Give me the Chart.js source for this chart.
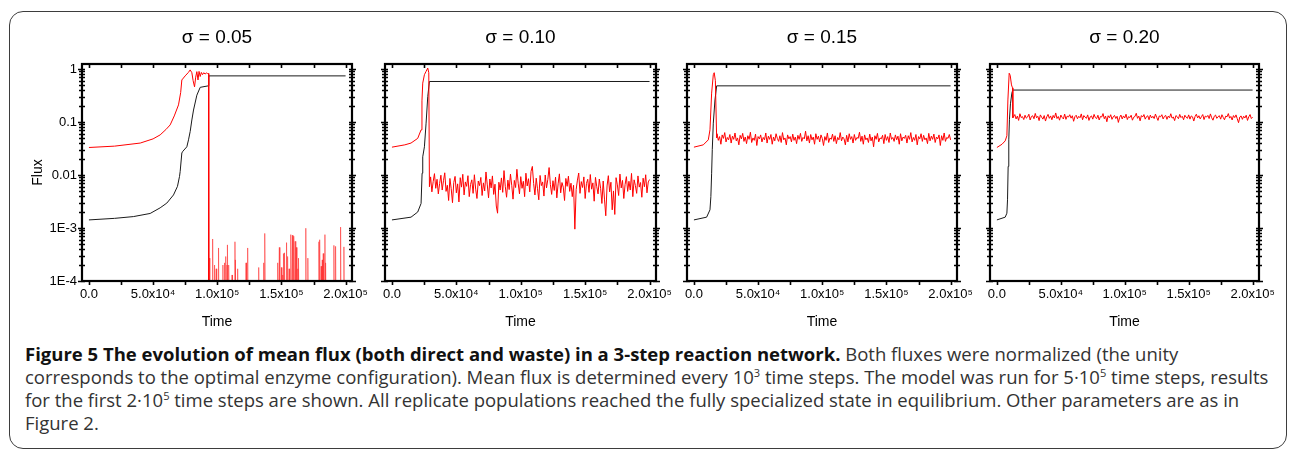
<!DOCTYPE html>
<html>
<head>
<meta charset="utf-8">
<script src="https://cdn.jsdelivr.net/npm/chart.js@4.4.1/dist/chart.umd.min.js"></script>
<style>
  html, body { margin: 0; padding: 0; background: #fff; }
  body { width: 1290px; height: 451px; position: relative; overflow: hidden; }
  .frame { position: absolute; left: 9px; top: 11px; width: 1276px; height: 436px;
           border: 1.5px solid #3d3d3d; border-radius: 14px; }
  .panel { position: absolute; top: 10px; height: 330px; }
  .caption { position: absolute; left: 25px; top: 342px; font-family: 'Open Sans', sans-serif;
             font-size: 18.5px; line-height: 23px; color: #333; white-space: nowrap; }
  .caption b { color: #111; }
  .caption sup { font-size: 60%; line-height: 0; vertical-align: 0.6em; }
</style>
</head>
<body>
<div class="frame"></div>
<div class="panel" style="left:20px;width:348px"><canvas id="p1"></canvas></div>
<div class="panel" style="left:370px;width:302px"><canvas id="p2"></canvas></div>
<div class="panel" style="left:674px;width:299px"><canvas id="p3"></canvas></div>
<div class="panel" style="left:976px;width:299px"><canvas id="p4"></canvas></div>
<div class="caption">
<b>Figure 5 The evolution of mean flux (both direct and waste) in a 3-step reaction network.</b> Both fluxes were normalized (the unity<br>
corresponds to the optimal enzyme configuration). Mean flux is determined every 10<sup>3</sup> time steps. The model was run for 5·10<sup>5</sup> time steps, results<br>
for the first 2·10<sup>5</sup> time steps are shown. All replicate populations reached the fully specialized state in equilibrium. Other parameters are as in<br>
Figure 2.
</div>
<script>
Chart.defaults.font.family = "'Liberation Sans', Arial, sans-serif";
Chart.defaults.color = '#000';

// axis ticks
const xTickValues = [0, 50000, 100000, 150000, 200000];
const xTickLabels = ['0.0', '5.0x10⁴', '1.0x10⁵', '1.5x10⁵', '2.0x10⁵'];
const xMinorTicks = [25000, 75000, 125000, 175000];
const yTickValues = [1, 0.1, 0.01, 0.001, 0.0001];
const yTickLabels = ['1', '0.1', '0.01', '1E-3', '1E-4'];
const sigmaTitles = ['σ = 0.05', 'σ = 0.10', 'σ = 0.15', 'σ = 0.20'];

// flux below the plotted range (drawn off the bottom of the axis)
const belowAxis = 1e-5;
// plateau samples are every 1000 time steps
const noiseStep = 1000;

// --- sigma = 0.05 ---
const black1T = [0, 20000, 34600, 47700, 55500, 60700, 65900, 69000, 70600, 71100, 72400, 73200, 76300, 77600, 78900, 80200, 81500, 84100, 86700, 93000, 93400, 200000];
const black1Y = [0.00142, 0.00152, 0.00164, 0.00188, 0.0024, 0.00295, 0.0042, 0.0061, 0.0094, 0.0116, 0.026, 0.028, 0.034, 0.046, 0.066, 0.109, 0.168, 0.32, 0.45, 0.48, 0.74, 0.74];
const red1T = [0, 20000, 40000, 50000, 55500, 60000, 63300, 66500, 69800, 71500, 72400, 75000, 77500, 78900, 80200, 81200, 82300, 83200, 84100, 85000, 85800, 86700, 87600, 88500, 89500, 90500, 91500, 92500, 93200, 93400];
const red1Y = [0.033, 0.035, 0.040, 0.048, 0.057, 0.072, 0.088, 0.13, 0.21, 0.36, 0.62, 0.74, 0.86, 0.96, 0.85, 0.6, 0.46, 0.7, 0.89, 0.62, 0.9, 0.72, 0.86, 0.78, 0.85, 0.8, 0.84, 0.82, 0.82, belowAxis];
// isolated waste-flux spikes after the collapse
const spike1T = [93800, 96400, 97900, 99200, 101000, 104400, 105700, 106800, 107600, 108100, 109100, 111500, 113800, 114300, 115900, 122400, 123700, 132300, 136200, 137200, 147100, 148400, 150000, 151000, 151800, 152600, 154000, 155000, 156000, 157300, 158600, 159600, 160700, 161700, 162800, 163500, 169000, 170600, 179200, 180000, 181000, 181800, 182600, 183900, 184600, 190900, 192200, 196100, 198700];
const spike1Y = [0.00027, 0.00062, 0.0002, 0.00017, 0.00042, 0.0002, 0.00022, 0.00029, 0.0002, 0.00048, 0.0002, 0.00013, 0.00055, 0.00025, 0.00017, 0.00022, 0.00042, 0.00018, 0.00022, 0.00079, 0.00022, 0.00043, 0.00018, 0.00013, 0.00033, 0.00034, 0.00053, 0.00029, 0.00017, 0.00075, 0.00073, 0.0007, 0.00056, 0.00043, 0.00017, 0.00027, 0.00099, 0.00027, 0.00055, 0.0006, 0.00019, 0.00025, 0.00033, 0.00075, 0.00022, 0.00047, 0.00045, 0.00104, 0.00044];

// --- sigma = 0.10 ---
const black2T = [0, 14800, 20000, 22600, 23400, 23900, 25200, 26500, 27800, 29100, 200000];
const black2Y = [0.00142, 0.0016, 0.002, 0.0029, 0.0108, 0.022, 0.034, 0.095, 0.30, 0.58, 0.58];
const red2T = [0, 10000, 14800, 20000, 22600, 23300, 23900, 25200, 26500, 27800, 28600, 29100];
const red2Y = [0.0335, 0.037, 0.040, 0.049, 0.071, 0.25, 0.54, 0.78, 0.9, 1.04, 0.85, 0.006];
// plateau from t = 30000, in units of 1e-3
const red2Start = 30000;
const red2Milli = [
  9.2, 4.8, 7.5, 10.6, 5.6, 8.3, 4.4, 6.9, 9.9, 5.2,
  7.8, 11.0, 4.9, 6.4, 3.3, 8.6, 5.5, 3.0, 7.2, 9.4,
  4.6, 6.8, 3.1, 8.9, 5.9, 10.3, 4.2, 7.4, 6.1, 9.7,
  3.9, 6.6, 8.1, 4.5, 10.1, 5.4, 3.6, 7.7, 6.3, 9.0,
  4.1, 7.1, 5.0, 11.4, 6.5, 3.7, 8.4, 5.7, 9.6, 4.3,
  6.7, 2.6, 1.9, 7.3, 5.2, 8.8, 4.7, 12.1, 6.0, 3.8,
  8.0, 5.3, 10.4, 6.4, 3.5, 7.9, 5.8, 12.8, 7.0, 4.4,
  9.3, 5.6, 7.6, 3.9, 10.8, 6.2, 8.5, 4.8, 11.7, 14.5,
  6.9, 4.2, 8.7, 5.5, 3.4, 9.8, 6.3, 7.4, 4.0, 10.0,
  5.7, 8.2, 13.8, 6.6, 4.3, 7.8, 5.1, 9.1, 3.7, 6.8,
  10.5, 4.6, 7.2, 5.9, 3.3, 8.6, 6.1, 9.5, 4.9, 7.0,
  3.9, 6.4, 0.95, 5.3, 8.0, 10.9, 4.5, 7.5, 5.8, 9.2,
  3.6, 6.9, 8.3, 4.7, 10.2, 5.4, 7.1, 3.2, 9.0, 6.0,
  4.4, 8.4, 5.6, 2.9, 7.7, 3.5, 1.7, 6.2, 9.7, 4.8,
  7.3, 2.2, 5.0, 1.8, 8.9, 6.5, 4.1, 10.4, 5.7, 7.9,
  3.6, 6.6, 9.3, 4.9, 7.6, 5.2, 10.7, 3.9, 8.1, 6.3,
  4.5, 9.6, 5.9, 7.2, 3.8, 8.7, 6.0, 10.1, 4.6, 7.4,
  8.2];

// --- sigma = 0.15 ---
const black3T = [0, 9900, 12500, 13200, 13800, 14300, 15100, 16400, 17700, 200000];
const black3Y = [0.00142, 0.0016, 0.0022, 0.0039, 0.0108, 0.03, 0.095, 0.26, 0.48, 0.48];
const red3T = [0, 7300, 11200, 12500, 13800, 15100, 15800, 16700, 17700];
const red3Y = [0.0335, 0.037, 0.046, 0.071, 0.35, 0.78, 0.85, 0.6, 0.05];
const red3Start = 18000;
const red3Milli = [
  60, 45, 53, 38, 57, 49, 63, 42, 51, 46,
  58, 40, 54, 47, 62, 44, 50, 37, 56, 48,
  61, 43, 52, 39, 55, 47, 64, 41, 50, 45,
  59, 36, 53, 48, 57, 42, 51, 46, 62, 40,
  54, 47, 58, 38, 52, 44, 60, 49, 43, 55,
  41, 63, 46, 50, 37, 57, 48, 53, 42, 59,
  45, 52, 39, 56, 47, 61, 43, 51, 48, 67,
  44, 55, 40, 58, 46, 52, 38, 60, 47, 54,
  42, 57, 49, 36, 53, 45, 62, 41, 50, 47,
  59, 43, 55, 39, 51, 46, 63, 44, 52, 48,
  37, 56, 42, 60, 47, 53, 40, 58, 45, 51,
  49, 64, 43, 54, 38, 57, 46, 50, 41, 59,
  44, 52, 34, 55, 47, 61, 42, 50, 48, 56,
  39, 58, 45, 53, 41, 62, 47, 51, 43, 57,
  46, 54, 38, 60, 44, 52, 49, 56, 40, 55,
  47, 63, 42, 51, 45, 58, 37, 53, 48, 60,
  43, 56, 46, 50, 39, 61, 44, 54, 47, 59,
  41, 52, 48, 57, 36, 55, 45, 62, 43, 51,
  49, 58, 46];

// --- sigma = 0.20 ---
const black4T = [0, 6500, 7800, 8300, 8800, 9300, 9800, 10600, 11700, 12400, 200000];
const black4Y = [0.00142, 0.0016, 0.0019, 0.0034, 0.0145, 0.046, 0.11, 0.22, 0.35, 0.40, 0.40];
const red4T = [0, 4000, 6500, 7800, 8600, 9600, 10400, 11400, 12200, 12500];
const red4Y = [0.033, 0.038, 0.044, 0.055, 0.26, 0.83, 0.76, 0.5, 0.44, 0.12];
const red4Start = 14000;
const red4Milli = [
  138, 114, 129, 107, 143, 121, 126, 111, 134, 118,
  124, 140, 109, 127, 131, 115, 145, 120, 128, 106,
  136, 123, 113, 132, 104, 125, 139, 117, 130, 110,
  133, 119, 148, 116, 127, 108, 135, 122, 114, 141,
  112, 129, 124, 137, 118, 131, 103, 126, 134, 115,
  128, 120, 142, 110, 132, 123, 117, 136, 107, 125,
  130, 113, 139, 121, 116, 134, 109, 127, 124, 144,
  115, 129, 101, 131, 120, 137, 112, 125, 133, 116,
  128, 98, 122, 135, 114, 130, 119, 140, 111, 126,
  121, 134, 108, 123, 127, 146, 117, 129, 105, 132,
  124, 138, 113, 126, 131, 110, 135, 119, 128, 116,
  141, 122, 107, 130, 125, 137, 114, 127, 133, 112,
  129, 120, 143, 118, 124, 106, 132, 126, 115, 139,
  121, 128, 110, 134, 123, 117, 136, 113, 130, 125,
  104, 127, 140, 119, 131, 114, 126, 138, 111, 129,
  124, 133, 116, 142, 120, 108, 128, 135, 117, 126,
  131, 113, 137, 122, 110, 129, 125, 144, 118, 127,
  109, 132, 121, 136, 115, 97, 124, 130, 112, 128,
  119, 134, 107, 125, 138, 116, 123];

function pairs(ts, ys) {
  return ts.map((t, i) => ({ x: t, y: ys[i] }));
}
function plateau(start, milli) {
  return milli.map((v, i) => ({ x: start + i * noiseStep, y: v / 1000 }));
}
function spikes(ts, ys) {
  const pts = [];
  ts.forEach((t, i) => {
    pts.push({ x: t - 400, y: belowAxis }, { x: t, y: ys[i] }, { x: t + 400, y: belowAxis });
  });
  return pts;
}

// Origin-style box with ticks on all four sides
const boxAxes = {
  id: 'boxAxes',
  afterDraw(chart) {
    const { ctx, chartArea: a, scales: { x, y } } = chart;
    ctx.save();
    ctx.strokeStyle = '#000';
    ctx.lineWidth = 1.6;
    ctx.beginPath();
    xTickValues.concat(xMinorTicks).forEach(v => {
      const px = Math.round(x.getPixelForValue(v)) + 0.5;
      ctx.moveTo(px, a.bottom); ctx.lineTo(px, a.bottom + 4);
      ctx.moveTo(px, a.top); ctx.lineTo(px, a.top + 4);
    });
    for (let d = -4; d <= 0; d++) {
      for (let k = 1; k <= 9; k++) {
        const v = k * Math.pow(10, d);
        if (v > y.max) break;
        const py = Math.round(y.getPixelForValue(v)) + 0.5;
        const len = k === 1 ? 4 : 3;
        ctx.moveTo(a.left - len, py); ctx.lineTo(a.left + 3, py);
        ctx.moveTo(a.right - 3, py); ctx.lineTo(a.right + len, py);
      }
    }
    ctx.stroke();
    ctx.lineWidth = 2.2;
    ctx.strokeRect(a.left, a.top, a.right - a.left, a.bottom - a.top);
    ctx.restore();
  }
};

function makePanel(id, title, blackPts, redPts, yWidth, showY, redFadeFrom) {
  const red = { label: 'waste', data: redPts, borderColor: '#ff0000', borderWidth: 1 };
  if (redFadeFrom) {
    // the sparse spikes come out pale, as thin single-sample lines
    red.segment = { borderColor: c => c.p0.parsed.x >= redFadeFrom ? 'rgba(255,40,40,0.55)' : undefined };
  }
  return new Chart(document.getElementById(id), {
    type: 'line',
    data: {
      datasets: [
        red,
        { label: 'direct', data: blackPts, borderColor: '#1a1a1a', borderWidth: 1 }
      ]
    },
    options: {
      responsive: true,
      maintainAspectRatio: false,
      animation: false,
      events: [],
      layout: { padding: { top: 1, right: 16, bottom: 0, left: 0 } },
      elements: { point: { radius: 0 }, line: { tension: 0 } },
      plugins: {
        legend: { display: false },
        tooltip: { enabled: false },
        title: {
          display: true, text: title, fullSize: false,
          font: { size: 19, weight: 'normal' }, color: '#000',
          padding: { top: 15, bottom: 15.2 }
        }
      },
      scales: {
        x: {
          type: 'linear', min: -5400, max: 205000,
          grid: { display: false, drawTicks: false },
          border: { display: false },
          afterBuildTicks: s => { s.ticks = xTickValues.map(v => ({ value: v })); },
          afterFit: s => { s.height = 59; s.paddingLeft = 0; s.paddingRight = 0; },
          ticks: {
            autoSkip: false, maxRotation: 0, padding: 6,
            font: { size: 13 }, color: '#000',
            callback: (v, i) => xTickLabels[i]
          },
          title: { display: true, text: 'Time', font: { size: 14 }, color: '#000', padding: { top: 0, bottom: 9.6 } }
        },
        y: {
          type: 'logarithmic', min: 0.0001, max: 1.24,
          grid: { display: false, drawTicks: false },
          border: { display: false },
          afterBuildTicks: s => { s.ticks = yTickValues.map(v => ({ value: v })); },
          afterFit: s => { s.width = yWidth; s.paddingTop = 0; s.paddingBottom = 0; },
          ticks: {
            display: showY, autoSkip: false, padding: 5,
            font: { size: 13 }, color: '#000',
            callback: (v, i) => yTickLabels[i]
          },
          title: { display: showY, text: 'Flux', font: { size: 14 }, color: '#000', padding: { top: 9.6, bottom: 0 } }
        }
      }
    },
    plugins: [boxAxes]
  });
}

document.addEventListener('DOMContentLoaded', () => {
  const red1 = pairs(red1T, red1Y).concat(spikes(spike1T, spike1Y), [{ x: 200000, y: belowAxis }]);
  makePanel('p1', sigmaTitles[0], pairs(black1T, black1Y), red1, 62, true, 93600);
  makePanel('p2', sigmaTitles[1], pairs(black2T, black2Y), pairs(red2T, red2Y).concat(plateau(red2Start, red2Milli)), 15, false);
  makePanel('p3', sigmaTitles[2], pairs(black3T, black3Y), pairs(red3T, red3Y).concat(plateau(red3Start, red3Milli)), 13, false);
  makePanel('p4', sigmaTitles[3], pairs(black4T, black4Y), pairs(red4T, red4Y).concat(plateau(red4Start, red4Milli)), 14, false);
});
</script>
</body>
</html>
